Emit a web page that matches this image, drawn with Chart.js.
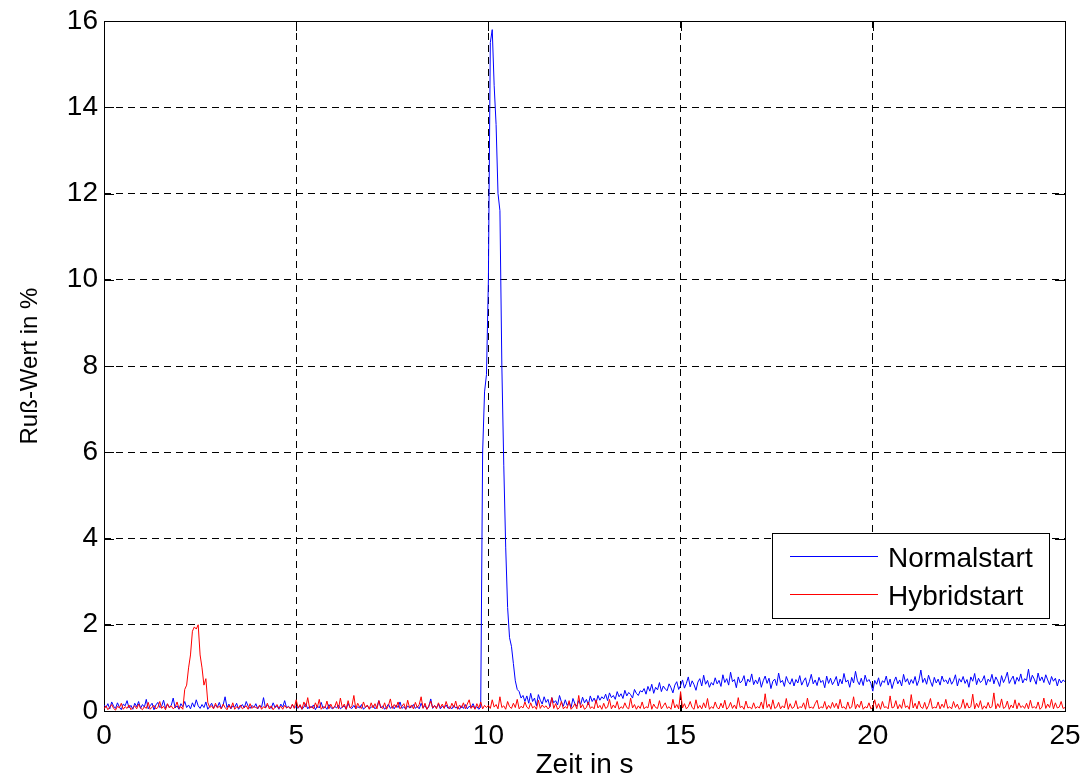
<!DOCTYPE html>
<html>
<head>
<meta charset="utf-8">
<script src="https://cdn.jsdelivr.net/npm/chart.js@4.4.0/dist/chart.umd.min.js"></script>
<style>
  html, body { margin: 0; padding: 0; background: #fff; }
  #wrap { width: 1082px; height: 779px; }
</style>
</head>
<body>
<div id="wrap"><canvas id="russChart"></canvas></div>
<script>
// Abtastung alle 0.05 s, von 0 bis 25 s
const tStep = 0.05;

const xTicks = [0, 5, 10, 15, 20, 25];
const yTicks = [0, 2, 4, 6, 8, 10, 12, 14, 16];

const normalstart = [
  0.14,0.08,0.17,0.05,0.21,0.11,0.06,0.19,0.09,0.03,0.16,0.12,0.24,0.07,0.13,0.04,0.18,0.10,0.22,0.06,
  0.15,0.09,0.27,0.05,0.12,0.18,0.03,0.14,0.20,0.08,0.11,0.25,0.06,0.16,0.09,0.13,0.30,0.07,0.12,0.04,
  0.17,0.10,0.22,0.08,0.14,0.05,0.19,0.09,0.26,0.12,0.06,0.15,0.08,0.21,0.04,0.11,0.18,0.07,0.13,0.09,
  0.20,0.06,0.14,0.33,0.08,0.16,0.05,0.12,0.09,0.18,0.04,0.10,0.15,0.07,0.22,0.11,0.06,0.13,0.08,0.17,
  0.05,0.12,0.09,0.31,0.07,0.14,0.10,0.06,0.19,0.08,0.12,0.04,0.16,0.09,0.24,0.07,0.11,0.05,0.14,0.08,
  0.10,0.06,0.13,0.04,0.09,0.17,0.05,0.11,0.08,0.14,0.03,0.12,0.07,0.20,0.06,0.10,0.04,0.15,0.08,0.05,
  0.11,0.07,0.14,0.05,0.09,0.12,0.04,0.18,0.08,0.06,0.13,0.05,0.10,0.07,0.15,0.04,0.09,0.12,0.06,0.08,
  0.13,0.05,0.10,0.24,0.07,0.12,0.04,0.09,0.16,0.06,0.11,0.05,0.14,0.08,0.21,0.06,0.10,0.04,0.12,0.07,
  0.09,0.15,0.06,0.11,0.05,0.18,0.07,0.13,0.04,0.10,0.28,0.06,0.12,0.08,0.16,0.05,0.11,0.07,0.14,0.06,
  0.10,0.05,0.13,0.07,0.09,0.04,0.12,0.06,0.15,0.05,0.11,0.08,0.17,0.06,0.10,0.04,0.09,6.0,7.4,7.8,
  10.0,15.5,15.8,14.5,13.6,12.0,11.6,8.0,5.7,3.8,2.4,1.7,1.5,1.1,0.7,0.5,0.45,0.3,0.36,0.22,
  0.35,0.18,0.41,0.22,0.30,0.12,0.38,0.25,0.16,0.33,0.20,0.27,0.10,0.31,0.19,0.24,0.14,0.36,0.21,0.11,
  0.26,0.13,0.20,0.08,0.29,0.17,0.11,0.24,0.15,0.32,0.19,0.27,0.14,0.35,0.22,0.30,0.18,0.36,0.25,0.33,
  0.28,0.39,0.24,0.42,0.31,0.36,0.27,0.45,0.33,0.40,0.29,0.48,0.35,0.43,0.38,0.30,0.50,0.41,0.36,0.47,
  0.44,0.52,0.39,0.57,0.46,0.62,0.41,0.55,0.49,0.66,0.45,0.58,0.51,0.47,0.63,0.54,0.42,0.60,0.68,0.50,
  0.59,0.72,0.53,0.64,0.79,0.56,0.70,0.61,0.48,0.67,0.75,0.58,0.83,0.62,0.71,0.55,0.66,0.60,0.77,0.63,
  0.71,0.57,0.84,0.66,0.75,0.60,0.90,0.68,0.73,0.54,0.79,0.65,0.70,0.82,0.58,0.74,0.67,0.86,0.61,0.72,
  0.63,0.78,0.55,0.70,0.81,0.64,0.76,0.52,0.69,0.74,0.59,0.88,0.66,0.71,0.57,0.80,0.68,0.62,0.75,0.58,
  0.73,0.65,0.82,0.60,0.70,0.77,0.56,0.68,0.85,0.63,0.72,0.59,0.78,0.66,0.71,0.54,0.81,0.64,0.76,0.61,
  0.69,0.80,0.58,0.74,0.63,0.87,0.67,0.72,0.55,0.78,0.65,0.92,0.70,0.61,0.76,0.59,0.83,0.68,0.73,0.64,
  0.46,0.71,0.62,0.77,0.57,0.70,0.66,0.81,0.60,0.74,0.52,0.68,0.79,0.63,0.72,0.58,0.85,0.67,0.75,0.61,
  0.73,0.64,0.80,0.59,0.71,0.95,0.66,0.76,0.62,0.83,0.69,0.57,0.78,0.65,0.74,0.60,0.81,0.68,0.72,0.63,
  0.77,0.62,0.70,0.84,0.58,0.75,0.67,0.80,0.64,0.73,0.55,0.79,0.69,0.87,0.61,0.76,0.66,0.71,0.82,0.60,
  0.74,0.68,0.85,0.63,0.79,0.70,0.57,0.82,0.66,0.76,0.90,0.64,0.73,0.81,0.62,0.78,0.69,0.86,0.65,0.75,
  0.71,0.97,0.67,0.83,0.74,0.62,0.88,0.70,0.79,0.66,0.84,0.72,0.61,0.80,0.69,0.76,0.58,0.74,0.65,0.72,
  0.68
];

const hybridstart = [
  0.05,0.12,0.03,0.09,0.15,0.06,0.02,0.11,0.07,0.18,0.04,0.10,0.06,0.14,0.03,0.08,0.12,0.05,0.16,0.07,
  0.03,0.10,0.06,0.20,0.04,0.09,0.13,0.05,0.08,0.22,0.06,0.11,0.03,0.17,0.07,0.12,0.05,0.09,0.21,0.06,
  0.10,0.04,0.50,0.60,1.00,1.30,1.85,1.95,1.90,2.00,1.30,1.00,0.60,0.75,0.20,0.08,0.12,0.05,0.18,0.07,
  0.11,0.05,0.16,0.08,0.03,0.13,0.06,0.19,0.04,0.10,0.07,0.14,0.05,0.09,0.12,0.04,0.17,0.06,0.11,0.08,
  0.06,0.14,0.04,0.10,0.07,0.18,0.05,0.12,0.03,0.09,0.15,0.06,0.11,0.04,0.13,0.07,0.10,0.05,0.16,0.06,
  0.26,0.07,0.15,0.04,0.21,0.09,0.31,0.06,0.11,0.05,0.19,0.08,0.27,0.04,0.10,0.07,0.23,0.05,0.16,0.06,
  0.09,0.22,0.05,0.30,0.08,0.16,0.04,0.24,0.07,0.12,0.36,0.05,0.18,0.09,0.06,0.21,0.08,0.14,0.04,0.19,
  0.07,0.17,0.05,0.24,0.09,0.06,0.19,0.04,0.13,0.28,0.06,0.15,0.08,0.21,0.05,0.11,0.17,0.04,0.25,0.07,
  0.14,0.05,0.20,0.08,0.15,0.33,0.06,0.18,0.04,0.12,0.23,0.07,0.13,0.05,0.19,0.08,0.16,0.06,0.22,0.09,
  0.05,0.18,0.08,0.23,0.04,0.14,0.07,0.19,0.05,0.16,0.26,0.06,0.12,0.04,0.17,0.07,0.21,0.05,0.13,0.08,
  0.13,0.06,0.26,0.09,0.15,0.05,0.33,0.08,0.12,0.04,0.22,0.10,0.06,0.18,0.08,0.27,0.05,0.11,0.07,0.21,
  0.09,0.05,0.19,0.07,0.11,0.04,0.25,0.06,0.14,0.08,0.12,0.05,0.09,0.31,0.06,0.17,0.04,0.08,0.22,0.05,
  0.10,0.06,0.24,0.04,0.09,0.17,0.05,0.36,0.07,0.15,0.04,0.08,0.21,0.06,0.10,0.05,0.26,0.07,0.13,0.04,
  0.18,0.06,0.09,0.27,0.05,0.14,0.07,0.22,0.04,0.10,0.06,0.19,0.08,0.05,0.30,0.07,0.15,0.04,0.12,0.06,
  0.21,0.05,0.10,0.07,0.28,0.04,0.16,0.08,0.06,0.24,0.05,0.12,0.19,0.06,0.10,0.04,0.27,0.07,0.15,0.05,
  0.45,0.07,0.17,0.05,0.10,0.22,0.08,0.04,0.26,0.06,0.13,0.05,0.19,0.07,0.29,0.04,0.10,0.06,0.21,0.08,
  0.05,0.18,0.07,0.25,0.04,0.09,0.20,0.06,0.14,0.05,0.31,0.08,0.11,0.04,0.23,0.07,0.09,0.05,0.19,0.06,
  0.10,0.07,0.21,0.05,0.40,0.08,0.16,0.04,0.26,0.06,0.09,0.20,0.05,0.12,0.07,0.29,0.04,0.17,0.06,0.09,
  0.24,0.05,0.10,0.08,0.19,0.04,0.30,0.07,0.09,0.06,0.17,0.25,0.05,0.10,0.07,0.22,0.04,0.13,0.06,0.20,
  0.08,0.18,0.05,0.27,0.07,0.10,0.04,0.21,0.06,0.09,0.33,0.05,0.16,0.08,0.23,0.04,0.10,0.07,0.19,0.05,
  0.09,0.26,0.06,0.17,0.04,0.22,0.08,0.10,0.05,0.35,0.07,0.09,0.24,0.05,0.15,0.06,0.28,0.08,0.12,0.04,
  0.38,0.07,0.18,0.05,0.23,0.09,0.06,0.20,0.04,0.13,0.29,0.06,0.09,0.07,0.21,0.05,0.16,0.08,0.27,0.06,
  0.10,0.05,0.22,0.08,0.16,0.04,0.09,0.27,0.06,0.19,0.07,0.10,0.39,0.05,0.18,0.08,0.24,0.04,0.12,0.06,
  0.20,0.07,0.10,0.42,0.05,0.17,0.08,0.28,0.06,0.09,0.23,0.04,0.14,0.07,0.26,0.05,0.19,0.08,0.12,0.06,
  0.18,0.05,0.25,0.07,0.10,0.06,0.21,0.04,0.09,0.30,0.06,0.16,0.08,0.27,0.05,0.19,0.07,0.09,0.22,0.06,
  0.08
];

const zeit = normalstart.map((_, i) => +(i * tStep).toFixed(2));

const FONT = '"Liberation Sans", Arial, Helvetica, sans-serif';

// Rahmen + Ticks nach innen (wie MATLAB)
const boxPlugin = {
  id: 'box',
  beforeDatasetsDraw(chart) {
    const { ctx, chartArea: a, scales } = chart;
    const tl = 10;
    ctx.save();
    ctx.strokeStyle = '#000';
    ctx.lineWidth = 1;
    ctx.setLineDash([]);
    ctx.beginPath();
    xTicks.forEach(v => {
      const x = Math.round(scales.x.getPixelForValue(v)) + 0.5;
      ctx.moveTo(x, a.bottom); ctx.lineTo(x, a.bottom - tl);
      ctx.moveTo(x, a.top); ctx.lineTo(x, a.top + tl);
    });
    yTicks.forEach(v => {
      const y = Math.round(scales.y.getPixelForValue(v)) + 0.5;
      ctx.moveTo(a.left, y); ctx.lineTo(a.left + tl, y);
      ctx.moveTo(a.right, y); ctx.lineTo(a.right - tl, y);
    });
    ctx.stroke();
    ctx.strokeRect(Math.round(a.left) + 0.5, Math.round(a.top) + 0.5,
      Math.round(a.right - a.left), Math.round(a.bottom - a.top));
    ctx.restore();
  },
  afterDatasetsDraw(chart) {
    const { ctx } = chart;
    const items = chart.data.datasets.slice().sort((p, q) => q.order - p.order);
    ctx.save();
    ctx.fillStyle = '#fff';
    ctx.fillRect(772, 533, 277, 85);
    ctx.strokeStyle = '#000';
    ctx.lineWidth = 1;
    ctx.strokeRect(772.5, 533.5, 277, 85);
    ctx.font = '28px ' + FONT;
    ctx.textBaseline = 'alphabetic';
    items.forEach((ds, i) => {
      const y = 556.5 + i * 38;
      ctx.strokeStyle = ds.borderColor;
      ctx.beginPath();
      ctx.moveTo(790, y); ctx.lineTo(878, y);
      ctx.stroke();
      ctx.fillStyle = '#000';
      ctx.fillText(ds.label, 888, y + 10);
    });
    ctx.restore();
  }
};

new Chart(document.getElementById('russChart'), {
  type: 'line',
  data: {
    datasets: [
      {
        label: 'Normalstart',
        data: zeit.map((t, i) => ({ x: t, y: normalstart[i] })),
        borderColor: '#0000ff',
        borderWidth: 1,
        pointRadius: 0,
        tension: 0,
        order: 2
      },
      {
        label: 'Hybridstart',
        data: zeit.map((t, i) => ({ x: t, y: hybridstart[i] })),
        borderColor: '#ff0000',
        borderWidth: 1,
        pointRadius: 0,
        tension: 0,
        order: 1
      }
    ]
  },
  options: {
    responsive: true,
    maintainAspectRatio: false,
    animation: false,
    layout: { padding: { top: 21, right: 17, left: 0, bottom: 0 } },
    plugins: {
      legend: { display: false },
      tooltip: { enabled: false }
    },
    scales: {
      x: {
        type: 'linear',
        min: 0,
        max: 25,
        afterBuildTicks: s => { s.ticks = xTicks.map(v => ({ value: v })); },
        afterFit: s => { s.height = 68; s.paddingLeft = 0; s.paddingRight = 0; },
        grid: { color: '#000', lineWidth: 1, drawTicks: false },
        border: { display: false, dash: [7, 5] },
        ticks: { color: '#000', font: { family: FONT, size: 28 }, padding: 8, maxRotation: 0 },
        title: {
          display: true, text: 'Zeit in s', color: '#000',
          font: { family: FONT, size: 28, lineHeight: 1 }, padding: 0
        }
      },
      y: {
        type: 'linear',
        min: 0,
        max: 16,
        afterBuildTicks: s => { s.ticks = yTicks.map(v => ({ value: v })); },
        afterFit: s => { s.width = 104; s.paddingTop = 0; s.paddingBottom = 0; },
        grid: { color: '#000', lineWidth: 1, drawTicks: false },
        border: { display: false, dash: [7, 5] },
        ticks: { color: '#000', font: { family: FONT, size: 28 }, padding: 6 },
        title: {
          display: true, text: 'Ruß-Wert in %', color: '#000',
          font: { family: FONT, size: 24 }, padding: { top: 16, bottom: 0 }
        }
      }
    }
  },
  plugins: [boxPlugin]
});
</script>
</body>
</html>
